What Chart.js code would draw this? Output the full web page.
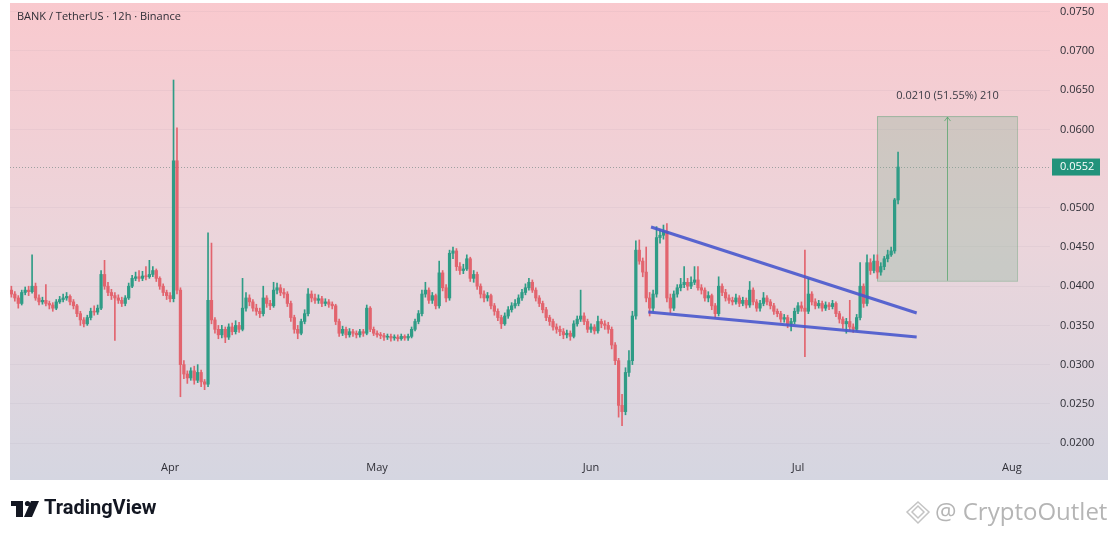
<!DOCTYPE html>
<html>
<head>
<meta charset="utf-8">
<style>
  html, body { margin: 0; padding: 0; background: #fff; }
  #wrap { width: 1118px; height: 537px; }
</style>
<script src="https://cdn.jsdelivr.net/npm/chart.js@4/dist/chart.umd.min.js"></script>
</head>
<body>
<div id="wrap"><canvas id="c" width="1118" height="537"></canvas></div>
<script>
// 12h candles, day-of-year 68 = 9 Mar
const START_DAY = 68
const STEP_DAYS = 0.5
const PRICE_UNIT = 0.0001

// prices in 0.0001 USDT
const opens = [
  395,390,385,378,392,395,393,400,385,380, 382,378,376,372,380,383,385,387,380,375,
  365,357,352,360,368,367,372,415,400,392, 388,385,382,378,385,400,410,412,410,413,
  412,415,420,410,400,392,388,384,560,395, 300,288,283,292,280,290,278,275,382,357,
  345,338,345,335,348,342,350,345,372,385, 380,372,368,365,385,378,375,395,398,392,
  390,378,360,345,340,355,365,390,385,382, 384,378,380,377,375,355,340,345,338,342,
  340,338,342,340,372,345,340,338,337,335, 336,334,335,333,336,334,336,345,355,365,
  390,395,382,388,375,417,398,385,442,445, 425,420,422,435,410,415,400,390,385,388,
  375,368,360,352,362,370,375,378,385,392, 398,405,395,385,378,370,360,355,348,345,
  342,338,340,336,352,358,362,355,345,348, 343,355,352,350,345,325,305,248,240,290,
  305,362,446,432,418,385,372,390,462,465, 470,385,372,390,398,402,405,400,405,408,
  398,395,385,388,375,365,400,392,385,382, 380,385,378,382,376,395,380,372,378,385,
  380,375,368,365,358,360,352,355,368,375, 372,368,390,380,375,378,372,376,374,378,
  365,358,352,355,348,345,360,400,378,430, 420,432,418,425,435,440,445,510
]
const highs = [
  400,393,388,395,399,400,440,404,389,386, 402,381,379,383,387,390,392,389,383,377,
  368,360,363,372,375,376,420,433,405,396, 392,389,386,388,404,414,418,420,419,425,
  433,425,422,412,403,395,392,663,602,398, 305,292,296,298,300,293,281,468,455,360,
  350,350,348,352,353,356,354,410,392,389, 383,377,372,400,388,382,405,404,402,397,
  393,381,363,350,358,370,397,394,390,389, 387,384,383,380,377,358,349,348,346,345,
  343,345,345,376,374,348,343,341,340,339, 339,338,338,339,338,339,348,358,369,395,
  405,398,392,390,432,420,402,446,450,448, 430,428,440,437,420,418,403,394,392,390,
  378,371,363,366,374,379,383,389,396,403, 410,408,398,388,381,373,363,358,352,349,
  346,344,343,356,362,395,366,358,352,351, 362,358,356,354,348,328,308,262,296,318,
  368,458,459,436,450,392,395,476,472,478, 480,390,394,402,410,425,410,412,425,425,
  402,398,393,390,378,412,403,396,389,386, 390,388,386,385,406,398,383,382,392,388,
  383,378,371,368,364,363,359,372,379,380, 446,410,393,384,382,381,380,379,382,380,
  368,361,359,382,352,364,430,403,440,435, 440,440,430,438,446,450,512,571
]
const lows = [
  386,381,372,376,389,388,391,382,376,377, 375,371,368,370,378,380,382,376,371,361,
  350,348,350,357,363,364,370,396,388,383, 331,378,374,375,383,398,407,406,407,408,
  410,412,406,396,388,383,380,380,390,259, 282,276,280,275,277,272,268,272,352,340,
  333,334,328,332,338,339,341,343,368,375, 368,363,360,362,373,370,373,390,388,385,
  374,355,340,333,338,352,362,380,378,378, 374,375,373,371,351,336,337,334,335,336,
  334,335,336,338,342,337,335,333,331,332, 330,331,330,331,331,331,334,343,352,362,
  386,378,378,371,372,394,380,382,435,420, 415,416,420,406,405,396,385,380,381,371,
  363,356,346,350,359,367,372,375,382,389, 395,392,381,374,366,356,350,344,340,337,
  333,334,331,334,349,355,351,341,341,339, 340,347,345,340,320,300,233,222,236,285,
  300,358,428,412,380,362,368,386,455,460, 380,366,369,386,394,398,395,397,402,395,
  390,381,380,370,360,362,388,381,378,376, 377,374,375,372,373,376,368,368,375,376,
  371,364,361,354,354,347,343,352,365,368, 310,365,376,371,372,368,369,370,371,361,
  353,346,340,344,341,343,357,373,375,415, 417,410,414,421,431,438,442,505
]
const closes = [
  390,385,378,392,395,393,400,385,380,382, 378,376,372,380,383,385,387,380,375,365,
  357,352,360,368,367,372,415,400,392,388, 385,382,378,385,400,410,412,410,413,412,
  415,420,410,400,392,388,384,560,395,300, 288,283,292,280,290,278,275,382,357,345,
  338,345,335,348,342,350,345,372,385,380, 372,368,365,385,378,375,395,398,392,390,
  378,360,345,340,355,365,390,385,382,384, 378,380,377,375,355,340,345,338,342,340,
  338,342,340,372,345,340,338,337,335,336, 334,335,333,336,334,336,345,355,365,390,
  395,382,388,375,417,398,385,442,445,425, 420,422,435,410,415,400,390,385,388,375,
  368,360,352,362,370,375,378,385,392,398, 405,395,385,378,370,360,355,348,345,342,
  338,340,336,352,358,362,355,345,348,343, 355,352,350,345,325,305,248,240,290,305,
  362,446,432,418,385,372,390,462,465,470, 385,372,390,398,402,405,400,405,408,398,
  395,385,388,375,365,400,392,385,382,380, 385,378,382,376,395,380,372,378,385,380,
  375,368,365,358,360,352,355,368,375,372, 368,390,380,375,378,372,376,374,378,365,
  358,352,355,348,345,360,400,378,430,420, 432,418,425,435,440,445,510,552
]

const monthDays = [91, 121, 152, 182, 213]
const monthLabels = ['Apr', 'May', 'Jun', 'Jul', 'Aug']
const priceTicks = [0.02, 0.025, 0.03, 0.035, 0.04, 0.045, 0.05, 0.06, 0.065, 0.07, 0.075]

const wedgeUpper = [{ x: 160.7, y: 0.04755 }, { x: 199.2, y: 0.03658 }]
const wedgeLower = [{ x: 160.3, y: 0.03671 }, { x: 199.2, y: 0.03352 }]
const rangeDays = [193.45, 213.74]
const rangePrices = [0.0407, 0.0617]
const rangeLabel = '0.0210 (51.55%) 210'
const lastPrice = 0.0552
const title = 'BANK / TetherUS · 12h · Binance'

const UP = '#2f9c86'
const DOWN = '#e2646e'
const FONT = "'Open Sans', 'Noto Sans', sans-serif"

const times = opens.map((_, i) => START_DAY + i * STEP_DAYS)
const candleColors = opens.map((o, i) => closes[i] >= o ? UP : DOWN)

const frame = {
  id: 'frame',
  beforeDraw(chart) {
    const ctx = chart.ctx
    ctx.save()
    ctx.fillStyle = '#fff'
    ctx.fillRect(0, 0, chart.width, chart.height)
    const g = ctx.createLinearGradient(0, 3, 0, 480)
    g.addColorStop(0, '#f9c9ce')
    g.addColorStop(0.5, '#ebd5db')
    g.addColorStop(1, '#d5d6e1')
    ctx.fillStyle = g
    ctx.fillRect(10, 3, 1098, 477)
    ctx.restore()
  },
  beforeDatasetsDraw(chart) {
    const ctx = chart.ctx
    const x = chart.scales.x
    const y = chart.scales.y
    const area = chart.chartArea
    ctx.save()
    // current price dotted line
    const py = Math.round(y.getPixelForValue(lastPrice)) + 0.5
    ctx.strokeStyle = 'rgba(90,120,115,0.55)'
    ctx.setLineDash([1, 2])
    ctx.lineWidth = 1
    ctx.beginPath()
    ctx.moveTo(area.left, py)
    ctx.lineTo(area.right, py)
    ctx.stroke()
    ctx.setLineDash([])
    // price range box
    const x0 = x.getPixelForValue(rangeDays[0])
    const x1 = x.getPixelForValue(rangeDays[1])
    const y0 = y.getPixelForValue(rangePrices[1])
    const y1 = y.getPixelForValue(rangePrices[0])
    ctx.fillStyle = 'rgba(130,180,150,0.30)'
    ctx.fillRect(x0, y0, x1 - x0, y1 - y0)
    ctx.strokeStyle = 'rgba(110,165,125,0.5)'
    ctx.strokeRect(x0 + 0.5, y0 + 0.5, x1 - x0, y1 - y0)
    const cx = Math.round((x0 + x1) / 2) + 0.5
    ctx.strokeStyle = 'rgba(90,165,110,0.8)'
    ctx.beginPath()
    ctx.moveTo(cx, y1)
    ctx.lineTo(cx, y0 + 1)
    ctx.moveTo(cx - 3, y0 + 5)
    ctx.lineTo(cx, y0 + 1)
    ctx.lineTo(cx + 3, y0 + 5)
    ctx.stroke()
    ctx.fillStyle = '#3a3a44'
    ctx.font = '11px ' + FONT
    ctx.textAlign = 'center'
    ctx.textBaseline = 'middle'
    ctx.fillText(rangeLabel, cx, y0 - 20)
    ctx.restore()
  },
  afterDraw(chart) {
    const ctx = chart.ctx
    const y = chart.scales.y
    ctx.save()
    // last price tag
    const py = y.getPixelForValue(lastPrice)
    ctx.fillStyle = '#22937b'
    ctx.fillRect(1052, py - 8.5, 48, 17)
    ctx.fillStyle = '#fff'
    ctx.font = '11px ' + FONT
    ctx.textBaseline = 'middle'
    ctx.textAlign = 'left'
    ctx.fillText(lastPrice.toFixed(4), 1060, py)
    // title
    ctx.fillStyle = '#2e2e36'
    ctx.font = '11px ' + FONT
    ctx.fillText(title, 17, 17)
    // TradingView logo
    ctx.fillStyle = '#131722'
    ctx.fillRect(11, 501, 12, 5)
    ctx.fillRect(16, 501, 7, 16)
    ctx.beginPath()
    ctx.arc(27.5, 503.5, 2.6, 0, Math.PI * 2)
    ctx.fill()
    ctx.beginPath()
    ctx.moveTo(31, 501)
    ctx.lineTo(39, 501)
    ctx.lineTo(32, 517)
    ctx.lineTo(24, 517)
    ctx.closePath()
    ctx.fill()
    ctx.font = "bold 20px Roboto, 'Open Sans', sans-serif"
    ctx.fillText('TradingView', 44, 509)
    // watermark
    ctx.strokeStyle = '#c4c4c4'
    ctx.lineWidth = 1.5
    ctx.beginPath()
    ctx.moveTo(918, 502)
    ctx.lineTo(929, 512)
    ctx.lineTo(918, 523)
    ctx.lineTo(907, 512)
    ctx.closePath()
    ctx.stroke()
    ctx.beginPath()
    ctx.moveTo(912, 512)
    ctx.lineTo(918, 506)
    ctx.lineTo(924, 512)
    ctx.lineTo(918, 518)
    ctx.closePath()
    ctx.stroke()
    ctx.fillStyle = '#b5b5b5'
    ctx.font = "24px 'Open Sans', sans-serif"
    ctx.fillText('@ CryptoOutlet', 935, 513)
    ctx.restore()
  }
}

new Chart(document.getElementById('c'), {
  type: 'bar',
  data: {
    datasets: [
      {
        label: 'wick',
        data: times.map((t, i) => ({ x: t, y: [lows[i] * PRICE_UNIT, highs[i] * PRICE_UNIT] })),
        backgroundColor: candleColors,
        barThickness: 1,
        grouped: false,
        order: 3,
      },
      {
        label: 'body',
        data: times.map((t, i) => ({ x: t, y: [opens[i] * PRICE_UNIT, closes[i] * PRICE_UNIT] })),
        backgroundColor: candleColors,
        barThickness: 2.6,
        minBarLength: 1,
        grouped: false,
        order: 2,
      },
      {
        type: 'line',
        label: 'upper',
        data: wedgeUpper,
        borderColor: 'rgba(72,88,205,0.9)',
        borderWidth: 3,
        pointRadius: 0,
        order: 1,
      },
      {
        type: 'line',
        label: 'lower',
        data: wedgeLower,
        borderColor: 'rgba(72,88,205,0.9)',
        borderWidth: 3,
        pointRadius: 0,
        order: 1,
      },
    ],
  },
  options: {
    responsive: false,
    animation: false,
    devicePixelRatio: 1,
    layout: { padding: { left: 10, top: 3, right: 10, bottom: 57 } },
    plugins: { legend: { display: false }, tooltip: { enabled: false } },
    scales: {
      x: {
        type: 'linear',
        min: 67.8,
        max: 218.52,
        offset: false,
        grid: { display: false },
        border: { display: false },
        afterBuildTicks: s => { s.ticks = monthDays.map(v => ({ value: v })) },
        afterFit: s => { s.height = 24; s.paddingLeft = 0; s.paddingRight = 0 },
        ticks: {
          autoSkip: false,
          maxRotation: 0,
          padding: -3,
          color: '#2e2e36',
          font: { size: 11, family: FONT },
          callback: (v, i) => monthLabels[i],
        },
      },
      y: {
        position: 'right',
        min: 0.018342,
        max: 0.076122,
        grid: { color: 'rgba(140,125,150,0.08)', drawTicks: false },
        border: { display: false },
        afterBuildTicks: s => { s.ticks = priceTicks.map(v => ({ value: v })) },
        afterFit: s => { s.width = 58; s.paddingTop = 0; s.paddingBottom = 0 },
        ticks: {
          padding: 10,
          color: '#2e2e36',
          font: { size: 11, family: FONT },
          callback: v => v.toFixed(4),
        },
      },
    },
  },
  plugins: [frame],
})
</script>
</body>
</html>
